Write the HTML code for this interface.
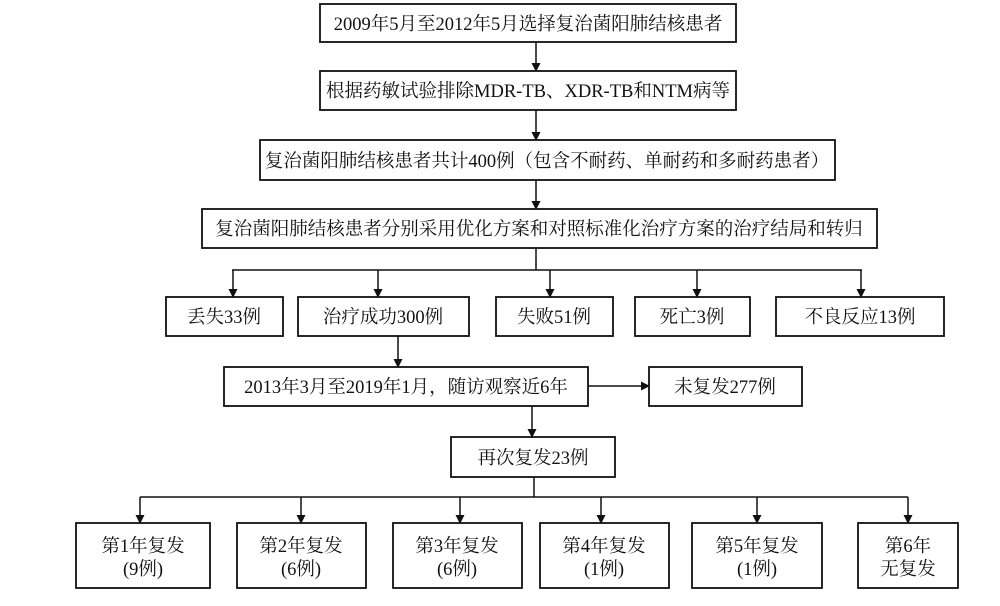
<!DOCTYPE html>
<html><head><meta charset="utf-8"><style>
html,body{margin:0;padding:0;background:#fff;}
svg text{font-family:"Liberation Serif","Noto Serif CJK SC",serif;font-size:18.5px;fill:#111;}
</style></head><body>
<svg width="1000" height="601" viewBox="0 0 1000 601" xmlns="http://www.w3.org/2000/svg">
<defs><marker id="a" markerWidth="9" markerHeight="9" refX="8" refY="4.5" orient="auto" markerUnits="userSpaceOnUse"><path d="M0,0 L9,4.5 L0,9 z" fill="#111"/></marker></defs>
<g fill="#fff" stroke="#111" stroke-width="1.8">
<rect x="320" y="4" width="416" height="38"/>
<rect x="320" y="71" width="416" height="39"/>
<rect x="260" y="140" width="575" height="40"/>
<rect x="202" y="209" width="675" height="39"/>
<rect x="166" y="297" width="117" height="39"/>
<rect x="298" y="297" width="171" height="39"/>
<rect x="496" y="297" width="117" height="39"/>
<rect x="635" y="297" width="115" height="39"/>
<rect x="776" y="297" width="168" height="39"/>
<rect x="224" y="367" width="364" height="39"/>
<rect x="649" y="367" width="153" height="39"/>
<rect x="451" y="437" width="164" height="40"/>
<rect x="76" y="523" width="134" height="65"/>
<rect x="237" y="523" width="129" height="65"/>
<rect x="393" y="523" width="129" height="65"/>
<rect x="540" y="523" width="129" height="65"/>
<rect x="692" y="523" width="130" height="65"/>
<rect x="858" y="523" width="100" height="65"/>
</g>
<g stroke="#111" stroke-width="1.5" fill="none">
<line x1="536" y1="42" x2="536" y2="71" marker-end="url(#a)"/>
<line x1="536" y1="110" x2="536" y2="140" marker-end="url(#a)"/>
<line x1="536" y1="180" x2="536" y2="209" marker-end="url(#a)"/>
<line x1="536" y1="248" x2="536" y2="270"/>
<line x1="232" y1="270" x2="862" y2="270"/>
<line x1="233" y1="270" x2="233" y2="297" marker-end="url(#a)"/>
<line x1="378" y1="270" x2="378" y2="297" marker-end="url(#a)"/>
<line x1="550" y1="270" x2="550" y2="297" marker-end="url(#a)"/>
<line x1="697" y1="270" x2="697" y2="297" marker-end="url(#a)"/>
<line x1="861" y1="270" x2="861" y2="297" marker-end="url(#a)"/>
<line x1="398" y1="336" x2="398" y2="367" marker-end="url(#a)"/>
<line x1="588" y1="386" x2="649" y2="386" marker-end="url(#a)"/>
<line x1="532" y1="406" x2="532" y2="437" marker-end="url(#a)"/>
<line x1="534" y1="477" x2="534" y2="497"/>
<line x1="140" y1="497" x2="908" y2="497"/>
<line x1="140" y1="497" x2="140" y2="523" marker-end="url(#a)"/>
<line x1="301" y1="497" x2="301" y2="523" marker-end="url(#a)"/>
<line x1="460" y1="497" x2="460" y2="523" marker-end="url(#a)"/>
<line x1="601" y1="497" x2="601" y2="523" marker-end="url(#a)"/>
<line x1="757" y1="497" x2="757" y2="523" marker-end="url(#a)"/>
<line x1="908" y1="497" x2="908" y2="523" marker-end="url(#a)"/>
</g>
<g text-anchor="middle">
<text x="528" y="30">2009年5月至2012年5月选择复治菌阳肺结核患者</text>
<text x="528" y="97">根据药敏试验排除MDR-TB、XDR-TB和NTM病等</text>
<text x="547" y="167">复治菌阳肺结核患者共计400例（包含不耐药、单耐药和多耐药患者）</text>
<text x="539" y="235">复治菌阳肺结核患者分别采用优化方案和对照标准化治疗方案的治疗结局和转归</text>
<text x="224" y="323">丢失33例</text>
<text x="383" y="323">治疗成功300例</text>
<text x="554" y="323">失败51例</text>
<text x="692" y="323">死亡3例</text>
<text x="860" y="323">不良反应13例</text>
<text x="406" y="393">2013年3月至2019年1月，随访观察近6年</text>
<text x="725" y="393">未复发277例</text>
<text x="533" y="464">再次复发23例</text>
<text x="143" y="552">第1年复发</text><text x="143" y="575">(9例)</text>
<text x="301" y="552">第2年复发</text><text x="301" y="575">(6例)</text>
<text x="457" y="552">第3年复发</text><text x="457" y="575">(6例)</text>
<text x="604" y="552">第4年复发</text><text x="604" y="575">(1例)</text>
<text x="757" y="552">第5年复发</text><text x="757" y="575">(1例)</text>
<text x="908" y="552">第6年</text><text x="908" y="575">无复发</text>
</g>
</svg>
</body></html>
